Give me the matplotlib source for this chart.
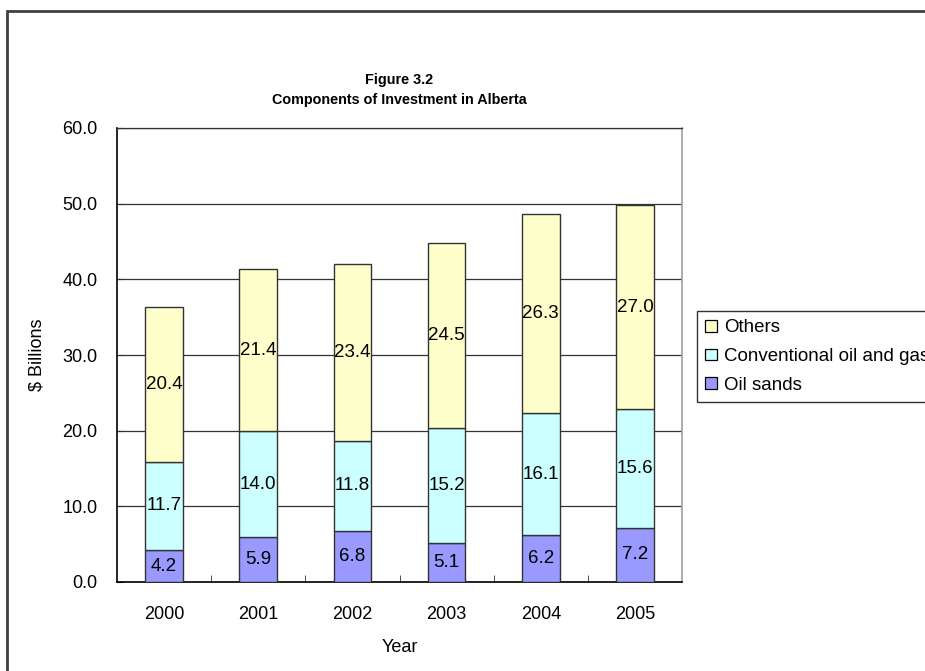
import matplotlib
matplotlib.use("Agg")
import matplotlib.pyplot as plt
import numpy as np
from matplotlib.patches import Rectangle, Patch

plt.rcParams['font.family'] = ['Liberation Sans', 'DejaVu Sans']

years = ['2000', '2001', '2002', '2003', '2004', '2005']
oil_sands = [4.2, 5.9, 6.8, 5.1, 6.2, 7.2]
conventional = [11.7, 14.0, 11.8, 15.2, 16.1, 15.6]
others = [20.4, 21.4, 23.4, 24.5, 26.3, 27.0]
series_names = ['Oil sands', 'Conventional oil and gas', 'Others']
colors = ['#9999FF', '#CCFFFF', '#FFFFCC']

FS = 13

fig = plt.figure(figsize=(9.25, 6.71), dpi=100)
ax = fig.add_axes([117/925, 1-582/671, (682-117)/925, (582-128)/671])

x = np.arange(len(years))
bottom = np.zeros(len(years))
series = [oil_sands, conventional, others]
for vals, name, c in zip(series, series_names, colors):
    vals = np.array(vals)
    ax.bar(x, vals, width=0.4, bottom=bottom, color=c, edgecolor='#333333',
           linewidth=1.0, label=name, zorder=3)
    for xi, b, v in zip(x, bottom, vals):
        ax.text(xi, b + v/2, f'{v:.1f}', ha='center', va='center',
                fontsize=13.5, color='black', zorder=4)
    bottom = bottom + vals

ax.set_xlim(-0.5, 5.5)
ax.set_ylim(0, 60)
ax.set_yticks(np.arange(0, 61, 10))
ax.set_yticklabels([f'{v:.1f}' for v in np.arange(0, 61, 10)], fontsize=FS)
ax.set_xticks(x)
ax.set_xticklabels(years, fontsize=FS)
ax.set_xticks(np.arange(0.5, 5.5, 1), minor=True)
ax.tick_params(axis='x', which='major', length=0, pad=17)
ax.tick_params(axis='x', which='minor', direction='in', length=5, color='#333333')
ax.tick_params(axis='y', direction='in', length=5, pad=14, color='#333333')
ax.yaxis.grid(True, color='#333333', linewidth=0.9, zorder=0)
ax.set_axisbelow(True)

for s in ['left', 'bottom']:
    ax.spines[s].set_color('black')
    ax.spines[s].set_linewidth(1.2)
ax.spines['top'].set_color('#333333')
ax.spines['top'].set_linewidth(0.9)
ax.spines['right'].set_color('#A0A0A0')
ax.spines['right'].set_linewidth(1.2)

ax.set_ylabel('$ Billions', fontsize=FS, labelpad=12)
ax.set_xlabel('Year', fontsize=FS, labelpad=12)

title_kw = dict(ha='center', va='center', fontsize=10.4, fontweight='bold')
fig.text(399/925, 1-80/671, 'Figure 3.2', **title_kw)
fig.text(399/925, 1-100/671, 'Components of Investment in Alberta', **title_kw)

handles = [Patch(facecolor=colors[i], edgecolor='black', linewidth=0.9) for i in [2, 1, 0]]
labels = [series_names[i] for i in [2, 1, 0]]
leg = fig.legend(handles, labels, loc='upper left',
                 bbox_to_anchor=(697/925, 1-311/671), fontsize=13.5,
                 frameon=True, fancybox=False, edgecolor='black',
                 handlelength=0.6, handleheight=0.6, handletextpad=0.4,
                 borderpad=0.45, labelspacing=0.62, borderaxespad=0)
leg.get_frame().set_linewidth(1.0)

# outer chart frame
fig.patches.append(Rectangle((7/925, -0.1), 1.2, 1-11/671 + 0.1,
                             transform=fig.transFigure, fill=False,
                             edgecolor='#404040', linewidth=2.0))

fig.savefig('out.png', dpi=100)
